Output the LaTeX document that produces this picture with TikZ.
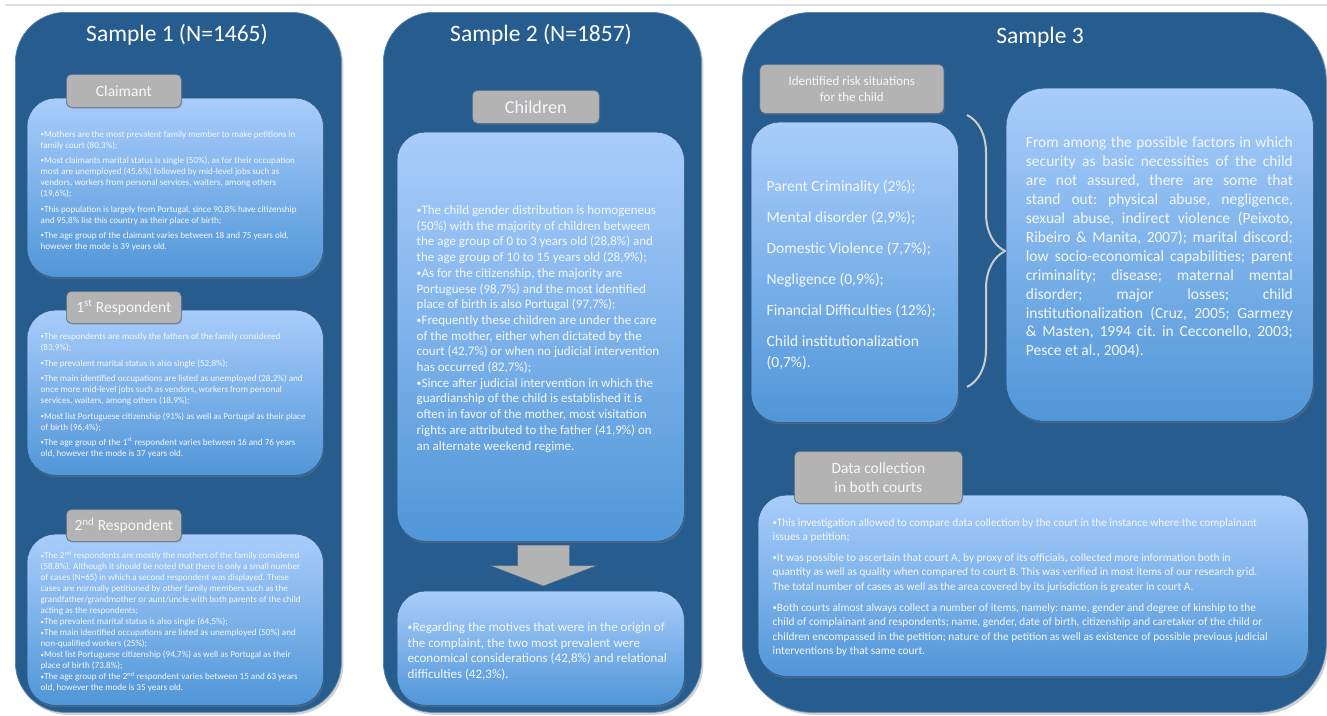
\documentclass[tikz,border=0pt]{standalone}
\usepackage{fontspec}
\setmainfont{Carlito}
\usetikzlibrary{shadows,decorations.pathreplacing}
\definecolor{panel}{HTML}{275C8E}
\definecolor{ltop}{HTML}{A9CDFB}
\definecolor{lbot}{HTML}{5096D8}
\definecolor{tabgray}{HTML}{B3B3B3}
\definecolor{txtw}{HTML}{F4F8FD}
\newcommand\jline[1]{\makebox[267pt][s]{#1}\\}
\newcommand\bul{\raisebox{0.07em}{\scalebox{0.75}{•}}}
\frenchspacing
\begin{document}
\begin{tikzpicture}[x=1pt,y=-1pt,
  panelbox/.style={fill=panel, draw=panel!75!white, line width=0.7pt, rounded corners=50pt,
    drop shadow={opacity=0.35, shadow xshift=2pt, shadow yshift=-2.5pt}, anchor=north west, inner sep=0pt},
  lightbox/.style={top color=ltop, bottom color=lbot, draw=panel!85!black, line width=0.4pt, rounded corners=28pt,
    drop shadow={opacity=0.35, shadow xshift=1pt, shadow yshift=-2pt}, anchor=north west, inner sep=0pt},
  tabbox/.style={fill=tabgray, draw=panel!55!gray, line width=0.7pt, rounded corners=5pt,
    drop shadow={opacity=0.3, shadow xshift=1pt, shadow yshift=-1.5pt}, anchor=north west, inner sep=0pt,
    text=txtw, align=center},
  title/.style={text=white, font=\fontsize{23.5}{27}\selectfont},
  txt/.style={text=txtw, anchor=north west, inner sep=0pt, align=left},
  smalltxt/.style={txt, font=\fontsize{9.1}{11}\selectfont},
]
\useasboundingbox (0,0) rectangle (1327,715);
\fill[white] (0,0) rectangle (1327,715);
\draw[gray!25, line width=1.5pt] (5,5) -- (1327,5);

% ---------- panels ----------
\node[panelbox, minimum width=326pt, minimum height=700pt] (p1) at (15,12) {};
\node[panelbox, minimum width=318pt, minimum height=700pt] (p2) at (383,12) {};
\node[panelbox, rounded corners=70pt, minimum width=584pt, minimum height=700pt] (p3) at (742,12) {};

\node[title] (t1) at (177,35) {Sample 1 (N=1465)};
\node[title] (t2) at (541,35) {Sample 2 (N=1857)};
\node[title] (t3) at (1040,37) {Sample 3};

% ---------- Sample 1 ----------
\node[lightbox, minimum width=296pt, minimum height=179pt] (c1) at (27,98) {};
\node[tabbox, minimum width=115pt, minimum height=33pt, font=\fontsize{15.5}{17}\selectfont] (tab1) at (66,74) {Claimant};
\node[smalltxt] (c1t) at (40.5,130.5) {%
\bul Mothers are the most prevalent family member to make petitions in\\
family court (80,3\%);\\[4.5pt]
\bul Most claimants marital status is single (50\%), as for their occupation\\
most are unemployed (45,6\%) followed by mid-level jobs such as\\
vendors, workers from personal services, waiters, among others\\
(19,6\%);\\[4.5pt]
\bul This population is largely from Portugal, since 90,8\% have citizenship\\
and 95,8\% list this country as their place of birth;\\[4.5pt]
\bul The age group of the claimant varies between 18 and 75 years old,\\
however the mode is 39 years old.};

\node[lightbox, minimum width=296pt, minimum height=165pt] (c2) at (27,310) {};
\node[tabbox, minimum width=115pt, minimum height=32pt, font=\fontsize{15.5}{17}\selectfont] (tab2) at (66,291) {1\textsuperscript{st} Respondent};
\node[smalltxt] (c2t) at (40.5,333) {%
\bul The respondents are mostly the fathers of the family considered\\
(83,9\%);\\[4.5pt]
\bul The prevalent marital status is also single (52,8\%);\\[4.5pt]
\bul The main identified occupations are listed as unemployed (28,2\%) and\\
once more mid-level jobs such as vendors, workers from personal\\
services, waiters, among others (18,9\%);\\[4.5pt]
\bul Most list Portuguese citizenship (91\%) as well as Portugal as their place\\
of birth (96,4\%);\\[4.5pt]
\bul The age group of the 1\textsuperscript{st} respondent varies between 16 and 76 years\\
old, however the mode is 37 years old.};

\node[lightbox, minimum width=296pt, minimum height=171pt] (c3) at (27,534) {};
\node[tabbox, minimum width=115pt, minimum height=32pt, font=\fontsize{15.5}{17}\selectfont] (tab3) at (66,509) {2\textsuperscript{nd} Respondent};
\node[smalltxt] (c3t) at (40.5,550.5) {%
\bul The 2\textsuperscript{nd} respondents are mostly the mothers of the family considered\\
(58,8\%). Although it should be noted that there is only a small number\\
of cases (N=65) in which a second respondent was displayed. These\\
cases are normally petitioned by other family members such as the\\
grandfather/grandmother or aunt/uncle with both parents of the child\\
acting as the respondents;\\
\bul The prevalent marital status is also single (64,5\%);\\
\bul The main identified occupations are listed as unemployed (50\%) and\\
non-qualified workers (25\%);\\
\bul Most list Portuguese citizenship (94,7\%) as well as Portugal as their\\
place of birth (73,8\%);\\
\bul The age group of the 2\textsuperscript{nd} respondent varies between 15 and 63 years\\
old, however the mode is 35 years old.};

% ---------- Sample 2 ----------
\node[lightbox, minimum width=287pt, minimum height=409pt] (ch) at (397,132) {};
\node[tabbox, minimum width=127pt, minimum height=33pt, font=\fontsize{18.2}{20}\selectfont] (tabch) at (472,90) {Children};
\node[txt, font=\fontsize{13}{15.7}\selectfont] (cht) at (416.5,205.3) {%
\bul The child gender distribution is homogeneus\\
(50\%) with the majority of children between\\
the age group of 0 to 3 years old (28,8\%) and\\
the age group of 10 to 15 years old (28,9\%);\\
\bul As for the citizenship, the majority are\\
Portuguese (98,7\%) and the most identified\\
place of birth is also Portugal (97,7\%);\\
\bul Frequently these children are under the care\\
of the mother, either when dictated by the\\
court (42,7\%) or when no judicial intervention\\
has occurred (82,7\%);\\
\bul Since after judicial intervention in which the\\
guardianship of the child is established it is\\
often in favor of the mother, most visitation\\
rights are attributed to the father (41,9\%) on\\
an alternate weekend regime.};

\node[lightbox, minimum width=287pt, minimum height=114pt] (mot) at (397,591) {};
\node[txt, font=\fontsize{13}{15.5}\selectfont] (mott) at (407.5,622.5) {%
\bul Regarding the motives that were in the origin of\\
the complaint, the two most prevalent were\\
economical considerations (42,8\%) and relational\\
difficulties (42,3\%).};

\fill[tabgray, draw=panel!60!gray, line width=0.5pt]
  (517.5,545) -- (569.5,545) -- (569.5,565.5) -- (597,565.5) -- (543.3,586) -- (490,565.5) -- (517.5,565.5) -- cycle;

% ---------- Sample 3 ----------
\node[lightbox, minimum width=207pt, minimum height=300pt] (risk) at (751,122) {};
\node[tabbox, minimum width=184pt, minimum height=49pt, font=\fontsize{13}{15.5}\selectfont] (tabrisk) at (759.5,64) {Identified risk situations\\for the child};
\node[txt, font=\fontsize{15.5}{31}\selectfont] (riskt) at (766.5,179.5) {%
Parent Criminality (2\%);\\
Mental disorder (2,9\%);\\
Domestic Violence (7,7\%);\\
Negligence (0,9\%);\\
Financial Difficulties (12\%);\\
Child institutionalization\\[-10pt]
(0,7\%).};

\draw[gray!40, line width=2pt, decorate, decoration={brace, amplitude=38pt}] (967,115) -- (967,387);

\node[lightbox, minimum width=307pt, minimum height=333pt, rounded corners=38pt] (fac) at (1006,88) {};
\node[txt, font=\fontsize{15.5}{18.9}\selectfont] (fact) at (1025.7,137) {%
\jline{From among the possible factors in which}
\jline{security as basic necessities of the child}
\jline{are not assured, there are some that}
\jline{stand out: physical abuse, negligence,}
\jline{sexual abuse, indirect violence (Peixoto,}
\jline{Ribeiro \& Manita, 2007); marital discord;}
\jline{low socio-economical capabilities; parent}
\jline{criminality; disease; maternal mental}
\jline{disorder; major losses; child}
\jline{institutionalization (Cruz, 2005; Garmezy}
\jline{\& Masten, 1994 cit. in Cecconello, 2003;}
Pesce et al., 2004).};

\node[lightbox, minimum width=550pt, minimum height=181pt] (dat) at (758,495) {};
\node[tabbox, minimum width=168pt, minimum height=52pt, font=\fontsize{15.5}{19}\selectfont] (tabdat) at (794,451) {Data collection\\in both courts};
\node[txt, font=\fontsize{11.3}{14.3}\selectfont] (datt) at (772.5,518) {%
\bul This investigation allowed to compare data collection by the court in the instance where the complainant\\
issues a petition;\\[7pt]
\bul It was possible to ascertain that court A, by proxy of its officials, collected more information both in\\
quantity as well as quality when compared to court B. This was verified in most items of our research grid.\\
The total number of cases as well as the area covered by its jurisdiction is greater in court A.\\[7pt]
\bul Both courts almost always collect a number of items, namely: name, gender and degree of kinship to the\\
child of complainant and respondents; name, gender, date of birth, citizenship and caretaker of the child or\\
children encompassed in the petition; nature of the petition as well as existence of possible previous judicial\\
interventions by that same court.};
\end{tikzpicture}
\end{document}
